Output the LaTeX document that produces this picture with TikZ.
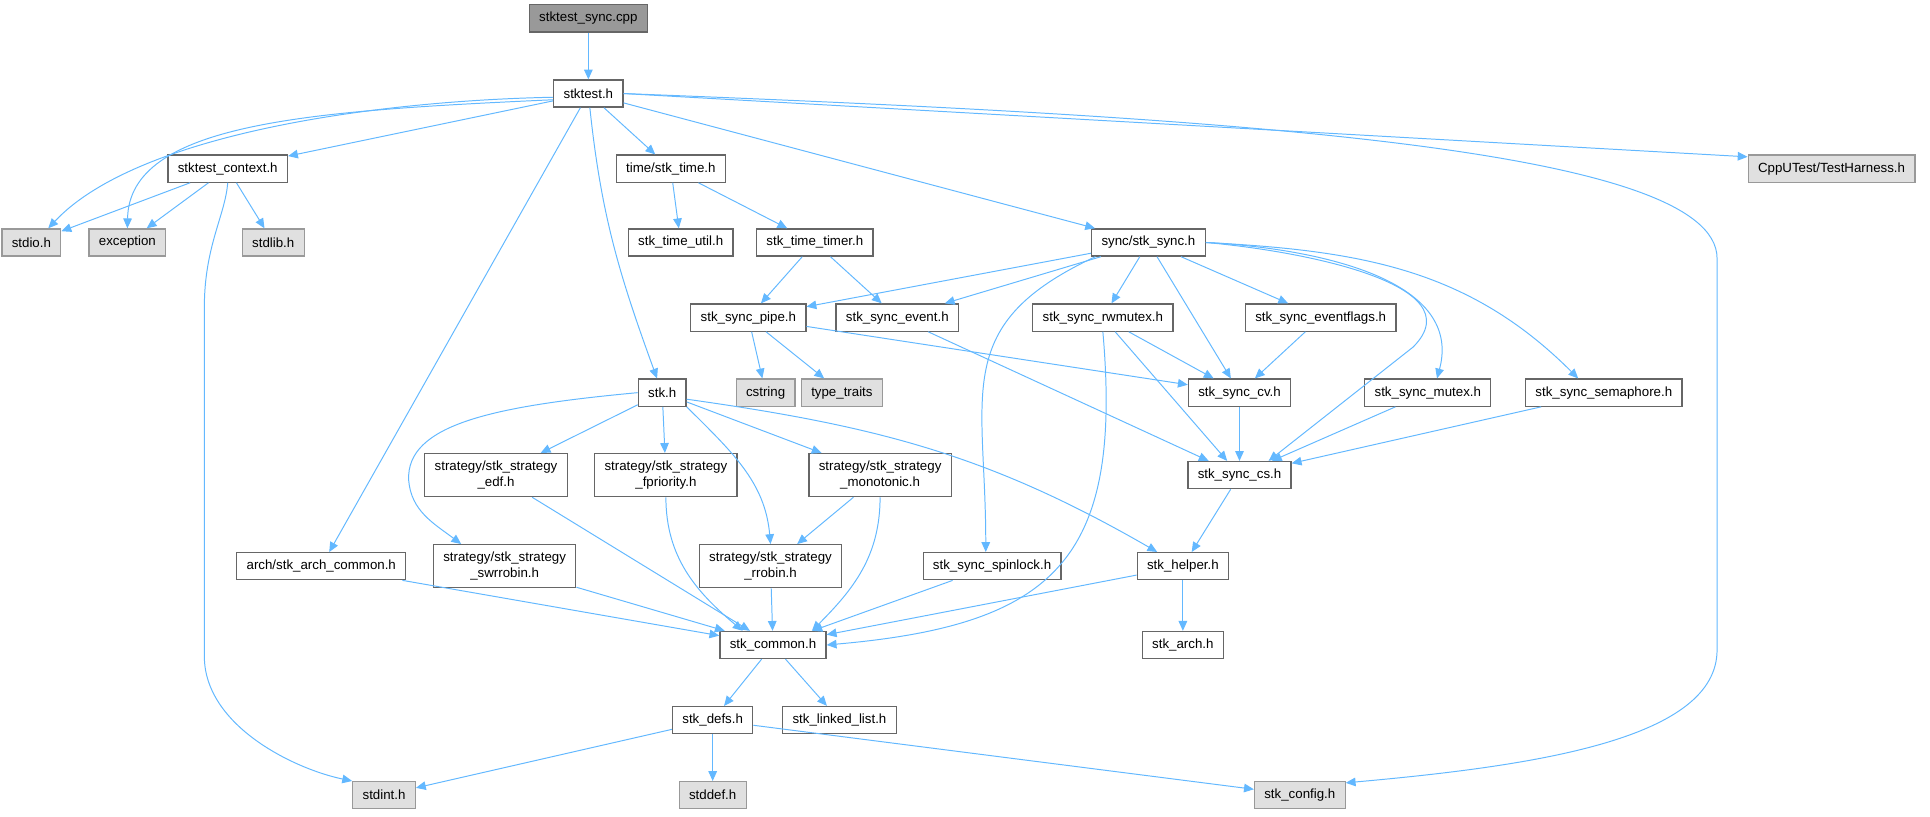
\documentclass[tikz,border=0pt]{standalone}
\usepackage{fontspec}
\setmainfont{Liberation Sans}
\usetikzlibrary{positioning,arrows.meta}
\definecolor{edgeblue}{HTML}{63B8FF}
\definecolor{boxline}{HTML}{666666}
\definecolor{sysfill}{HTML}{E0E0E0}
\definecolor{sysline}{HTML}{999999}
\definecolor{rootfill}{HTML}{999999}
\tikzset{
  every node/.style={
    draw=boxline,
    fill=white,
    line width=1pt,
    font=\fontsize{10.8}{13}\selectfont,
    inner xsep=8pt,
    inner ysep=6pt,
    minimum height=22pt,
    align=center
  },
  sys/.style={fill=sysfill, draw=sysline},
  root/.style={fill=rootfill, draw=boxline},
  dep/.style={draw=edgeblue, line width=0.8pt, -{Triangle[length=8pt,width=7pt]}}
}

\begin{document}
\begin{tikzpicture}[x=1pt,y=1pt]
        \useasboundingbox (0,0) rectangle (1568,-663);
        \node [root] (cpp) at (478,-15) {stktest\_sync.cpp};
        \node [on grid, below=61pt of cpp] (stktest) {stktest.h};
        \node [on grid, below left=61pt and 293pt of stktest] (ctx) {stktest\_context.h};
        \node [on grid, below right=61pt and 67pt of stktest] (time) {time/stk\_time.h};
        \node [on grid, right=943pt of time, sys] (harness) {CppUTest/TestHarness.h};
        \node [on grid, below left=60pt and 159.5pt of ctx, sys] (stdio) {stdio.h};
        \node [on grid, right=78pt of stdio, sys] (exception) {exception};
        \node [on grid, right=118.5pt of exception, sys] (stdlib) {stdlib.h};
        \node [on grid, below right=60pt and 8pt of time] (timeutil) {stk\_time\_util.h};
        \node [on grid, right=109pt of timeutil] (timer) {stk\_time\_timer.h};
        \node [on grid, right=271pt of timer] (sync) {sync/stk\_sync.h};
        \node [on grid, below left=61pt and 54pt of timer] (pipe) {stk\_sync\_pipe.h};
        \node [on grid, right=121pt of pipe] (event) {stk\_sync\_event.h};
        \node [on grid, right=167pt of event] (rwmutex) {stk\_sync\_rwmutex.h};
        \node [on grid, right=177pt of rwmutex] (eventflags) {stk\_sync\_eventflags.h};
        \node [on grid, below left=61pt and 70pt of pipe] (stk) {stk.h};
        \node [on grid, right=84pt of stk, sys] (cstring) {cstring};
        \node [on grid, right=62pt of cstring, sys] (typetraits) {type\_traits};
        \node [on grid, right=323pt of typetraits] (cv) {stk\_sync\_cv.h};
        \node [on grid, right=153pt of cv] (mutex) {stk\_sync\_mutex.h};
        \node [on grid, right=143pt of mutex] (semaphore) {stk\_sync\_semaphore.h};
        \node [on grid, below left=67pt and 135pt of stk] (edf) {strategy/stk\_strategy\\\_edf.h};
        \node [on grid, right=138pt of edf] (fprio) {strategy/stk\_strategy\\\_fpriority.h};
        \node [on grid, right=174pt of fprio] (mono) {strategy/stk\_strategy\\\_monotonic.h};
        \node [on grid, below=67pt of cv] (cs) {stk\_sync\_cs.h};
        \node [on grid, below left=74pt and 142pt of edf] (archcommon) {arch/stk\_arch\_common.h};
        \node [on grid, right=149pt of archcommon] (swrr) {strategy/stk\_strategy\\\_swrrobin.h};
        \node [on grid, right=216pt of swrr] (rr) {strategy/stk\_strategy\\\_rrobin.h};
        \node [on grid, right=180pt of rr] (spinlock) {stk\_sync\_spinlock.h};
        \node [on grid, right=155pt of spinlock] (helper) {stk\_helper.h};
        \node [on grid, below right=64pt and 2pt of rr] (common) {stk\_common.h};
        \node [on grid, below=64pt of helper] (arch) {stk\_arch.h};
        \node [on grid, below left=61pt and 49pt of common] (defs) {stk\_defs.h};
        \node [on grid, right=103pt of defs] (linked) {stk\_linked\_list.h};
        \node [on grid, below left=61pt and 267pt of defs, sys] (stdint) {stdint.h};
        \node [on grid, below=61pt of defs, sys] (stddef) {stddef.h};
        \node [on grid, right=477pt of stddef, sys] (config) {stk\_config.h};
        % stktest.h
        \draw [dep] (cpp) -- (stktest);
        \draw [dep] (stktest.186) .. controls (300,-82) and (110,-110) .. (stdio.40);
        \draw [dep] (stktest.190) .. controls (250,-90) and (105,-100) .. (exception.north);
        \draw [dep] (stktest) -- (ctx);
        \draw [dep] (stktest) -- (time);
        \draw [dep] (stktest) -- (sync);
        \draw [dep] (stktest.east) -- (harness.172);
        \draw [dep] (stktest.east) .. controls (1000,-95) and (1395,-120) .. (1395,-210) -- (1395,-528) .. controls (1395,-600) and (1250,-622) .. (config.15);
        \draw [dep] (stktest) to[out=-84,in=110] (stk);
        \draw [dep] (stktest) -- (archcommon);
        % stktest_context.h
        \draw [dep] (ctx) -- (stdio);
        \draw [dep] (ctx) -- (exception);
        \draw [dep] (ctx) -- (stdlib);
        \draw [dep] (ctx.south) .. controls (183,-175) and (166,-200) .. (166,-250) -- (166,-533) .. controls (166,-590) and (240,-625) .. (stdint.north west);
        % time
        \draw [dep] (time) -- (timeutil);
        \draw [dep] (time) -- (timer);
        \draw [dep] (timer) -- (pipe);
        \draw [dep] (timer) -- (event);
        % sync
        \draw [dep] (sync) -- (pipe);
        \draw [dep] (sync) -- (event);
        \draw [dep] (sync.195) to[out=205,in=90,looseness=1.3] (spinlock.114);
        \draw [dep] (sync) -- (rwmutex);
        \draw [dep] (sync) -- (cv);
        \draw [dep] (sync) -- (eventflags);
        \draw [dep] (sync.east) to[out=-5,in=45] (1148,-282) -- (cs.26);
        \draw [dep] (sync.east) to[out=-3,in=75] (mutex.57);
        \draw [dep] (sync.east) to[out=-3,in=135] (semaphore.151);
        \draw [dep] (pipe) -- (cstring);
        \draw [dep] (pipe) -- (typetraits);
        \draw [dep] (pipe) -- (cv);
        \draw [dep] (event) -- (cs);
        \draw [dep] (rwmutex) -- (cv);
        \draw [dep] (rwmutex) -- (cs);
        \draw [dep] (rwmutex.south) to[out=-85,in=5,looseness=1.4] (common.east);
        \draw [dep] (eventflags) -- (cv);
        \draw [dep] (cv) -- (cs);
        \draw [dep] (mutex) -- (cs);
        \draw [dep] (semaphore) -- (cs);
        \draw [dep] (cs) -- (helper);
        % stk.h
        \draw [dep] (stk) -- (edf);
        \draw [dep] (stk) -- (fprio);
        \draw [dep] (stk) -- (mono);
        \draw [dep] (stk.west) .. controls (400,-330) and (330,-345) .. (332,-390) .. controls (334,-415) and (352,-425) .. (swrr.153);
        \draw [dep] (stk.south east) to[out=-45,in=95] (rr.north);
        \draw [dep] (stk.-15) to[out=-8,in=150] (helper.151);
        % strategies and the rest
        \draw [dep] (edf) -- (common);
        \draw [dep] (fprio.south) to[out=-90,in=140] (common.155);
        \draw [dep] (mono) -- (rr);
        \draw [dep] (mono.south) to[out=-90,in=45] (common.20);
        \draw [dep] (swrr) -- (common);
        \draw [dep] (rr) -- (common);
        \draw [dep] (archcommon) -- (common);
        \draw [dep] (spinlock) -- (common);
        \draw [dep] (helper) -- (common);
        \draw [dep] (helper) -- (arch);
        \draw [dep] (common) -- (defs);
        \draw [dep] (common) -- (linked);
        \draw [dep] (defs) -- (stdint);
        \draw [dep] (defs) -- (stddef);
        \draw [dep] (defs) -- (config);
      \end{tikzpicture}
\end{document}
